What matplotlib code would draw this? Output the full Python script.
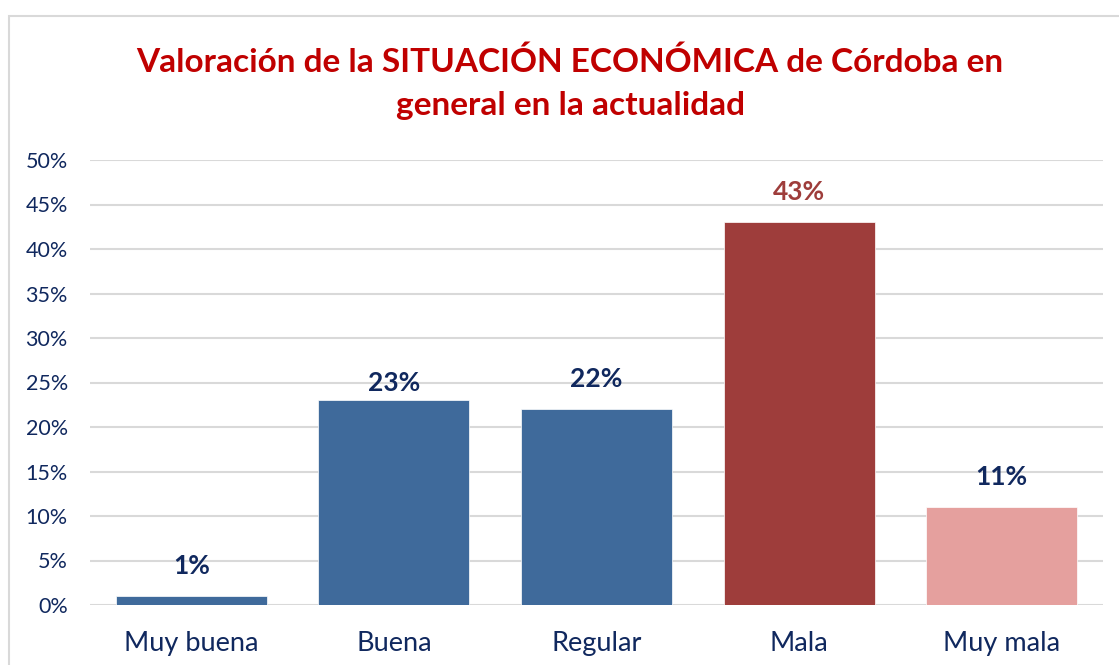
import matplotlib
matplotlib.use("Agg")
import matplotlib.pyplot as plt
from matplotlib.patches import Rectangle

categories = ["Muy buena", "Buena", "Regular", "Mala", "Muy mala"]
values = [1, 23, 22, 43, 11]
bar_colors = ["#3F6A9B", "#3F6A9B", "#3F6A9B", "#9E3D3B", "#E5A09E"]
label_colors = ["#10285E", "#10285E", "#10285E", "#9E3D3B", "#10285E"]
yticks = [0, 5, 10, 15, 20, 25, 30, 35, 40, 45, 50]

plt.rcParams['font.family'] = ['Lato', 'DejaVu Sans']
navy = "#10285E"

W, H = 1119, 665
fig = plt.figure(figsize=(W / 100, H / 100), dpi=100)
fig.patch.set_facecolor("white")

# outer chart frame (runs off the right and bottom edges)
fig.patches.append(Rectangle((9 / W, -0.05), 1.2, 1 - 16 / H + 0.05,
                             transform=fig.transFigure, fill=False,
                             edgecolor="#D9D9D9", linewidth=1.5))

ax = fig.add_axes([90 / W, 1 - 605 / H, (1103 - 90) / W, (605 - 160) / H])
x = range(len(categories))
bars = ax.bar(x, values, width=0.745, color=bar_colors, edgecolor="white",
              linewidth=0.5, zorder=3)

# label gap above bar (the Buena one sits lower in the original)
offsets = [13, 4, 13, 13, 13]
for i, v in enumerate(values):
    ax.annotate(f"{v}%", (i, v), xytext=(0, offsets[i]), textcoords="offset points",
                ha="center", va="bottom", fontsize=19, fontweight="bold",
                color=label_colors[i])

ax.set_xlim(-0.5, len(categories) - 0.5)
ax.set_ylim(0, 50)
ax.set_yticks(yticks)
ax.set_yticklabels([f"{t}%" for t in yticks])
ax.set_xticks(list(x))
ax.set_xticklabels(categories)
ax.tick_params(axis="y", length=0, pad=16, labelsize=15.5, labelcolor=navy)
ax.tick_params(axis="x", length=0, pad=19, labelsize=19.5, labelcolor=navy)
ax.grid(axis="y", color="#D9D9D9", linewidth=1.5, zorder=0)
for s in ax.spines.values():
    s.set_visible(False)

fig.text(570 / W, 1 - 83 / H,
         "Valoración de la SITUACIÓN ECONÓMICA de Córdoba en\ngeneral en la actualidad",
         ha="center", va="center", fontsize=24, fontweight="bold",
         color="#C00000", linespacing=1.6)

fig.savefig("out.png", dpi=100)
